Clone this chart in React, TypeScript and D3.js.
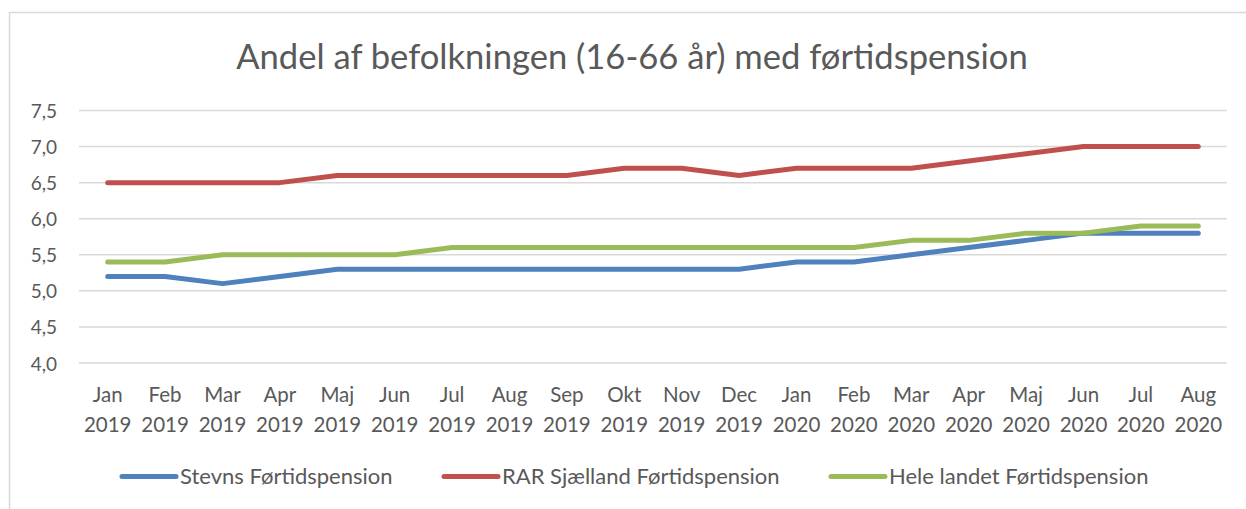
import React from "react";
import * as d3 from "d3";

const months = ["Jan", "Feb", "Mar", "Apr", "Maj", "Jun", "Jul", "Aug", "Sep", "Okt", "Nov", "Dec", "Jan", "Feb", "Mar", "Apr", "Maj", "Jun", "Jul", "Aug"];
const years = ["2019", "2019", "2019", "2019", "2019", "2019", "2019", "2019", "2019", "2019", "2019", "2019", "2020", "2020", "2020", "2020", "2020", "2020", "2020", "2020"];
const stevns = [5.2, 5.2, 5.1, 5.2, 5.3, 5.3, 5.3, 5.3, 5.3, 5.3, 5.3, 5.3, 5.4, 5.4, 5.5, 5.6, 5.7, 5.8, 5.8, 5.8];
const rar = [6.5, 6.5, 6.5, 6.5, 6.6, 6.6, 6.6, 6.6, 6.6, 6.7, 6.7, 6.6, 6.7, 6.7, 6.7, 6.8, 6.9, 7.0, 7.0, 7.0];
const hele = [5.4, 5.4, 5.5, 5.5, 5.5, 5.5, 5.6, 5.6, 5.6, 5.6, 5.6, 5.6, 5.6, 5.6, 5.7, 5.7, 5.8, 5.8, 5.9, 5.9];
const yTicks = [4.0, 4.5, 5.0, 5.5, 6.0, 6.5, 7.0, 7.5];
const seriesNames = ["Stevns Førtidspension", "RAR Sjælland Førtidspension", "Hele landet Førtidspension"];
const title = "Andel af befolkningen (16-66 år) med førtidspension";

const W = 1246, H = 509;
const FONT = "Lato, 'Open Sans', sans-serif";
const TXT = "#595959";

export default function App() {
  const idx = months.map((_, i) => i);
  const x = d3.scaleBand<number>().domain(idx).range([79, 1227]);
  const y = d3.scaleLinear().domain([4.0, 7.5]).range([363, 110.5]);
  const cx = (i: number) => (x(i) as number) + x.bandwidth() / 2;
  const line = d3.line<number>().x((_, i) => cx(i)).y((d) => y(d));
  const series = [
    { name: seriesNames[0], data: stevns, color: "#4F81BD" },
    { name: seriesNames[1], data: rar, color: "#C0504D" },
    { name: seriesNames[2], data: hele, color: "#9BBB59" },
  ];
  const legendX = [122, 444, 831];
  const fmt = (v: number) => v.toFixed(1).replace(".", ",");

  return (
    <svg width={W} height={H} style={{ position: "absolute", left: 0, top: 0 }} fontFamily={FONT}>
      <rect x={0} y={0} width={W} height={H} fill="#fff" />
      <rect x={9.5} y={12.5} width={W + 10} height={H + 10} fill="none" stroke="#d9d9d9" strokeWidth={1.5} />
      <text x={632} y={68.5} textAnchor="middle" fontSize={34.6} fill={TXT}>{title}</text>
      {yTicks.map((t) => (
        <g key={t}>
          <line x1={79} x2={1227} y1={y(t)} y2={y(t)} stroke="#d9d9d9" strokeWidth={1.5} />
          <text x={57} y={y(t) + 7.5} textAnchor="end" fontSize={19} fill={TXT}>{fmt(t)}</text>
        </g>
      ))}
      {idx.map((i) => (
        <g key={i}>
          <text x={cx(i)} y={401.7} textAnchor="middle" fontSize={20.5} fill={TXT}>{months[i]}</text>
          <text x={cx(i)} y={431.7} textAnchor="middle" fontSize={20.5} fill={TXT}>{years[i]}</text>
        </g>
      ))}
      {series.map((s) => (
        <path key={s.name} d={line(s.data) || ""} fill="none" stroke={s.color} strokeWidth={5} strokeLinecap="round" strokeLinejoin="round" />
      ))}
      {series.map((s, k) => (
        <g key={s.name}>
          <line x1={legendX[k]} x2={legendX[k] + 54} y1={476.5} y2={476.5} stroke={s.color} strokeWidth={5} strokeLinecap="round" />
          <text x={legendX[k] + 58} y={484} fontSize={22} fill={TXT}>{s.name}</text>
        </g>
      ))}
    </svg>
  );
}
